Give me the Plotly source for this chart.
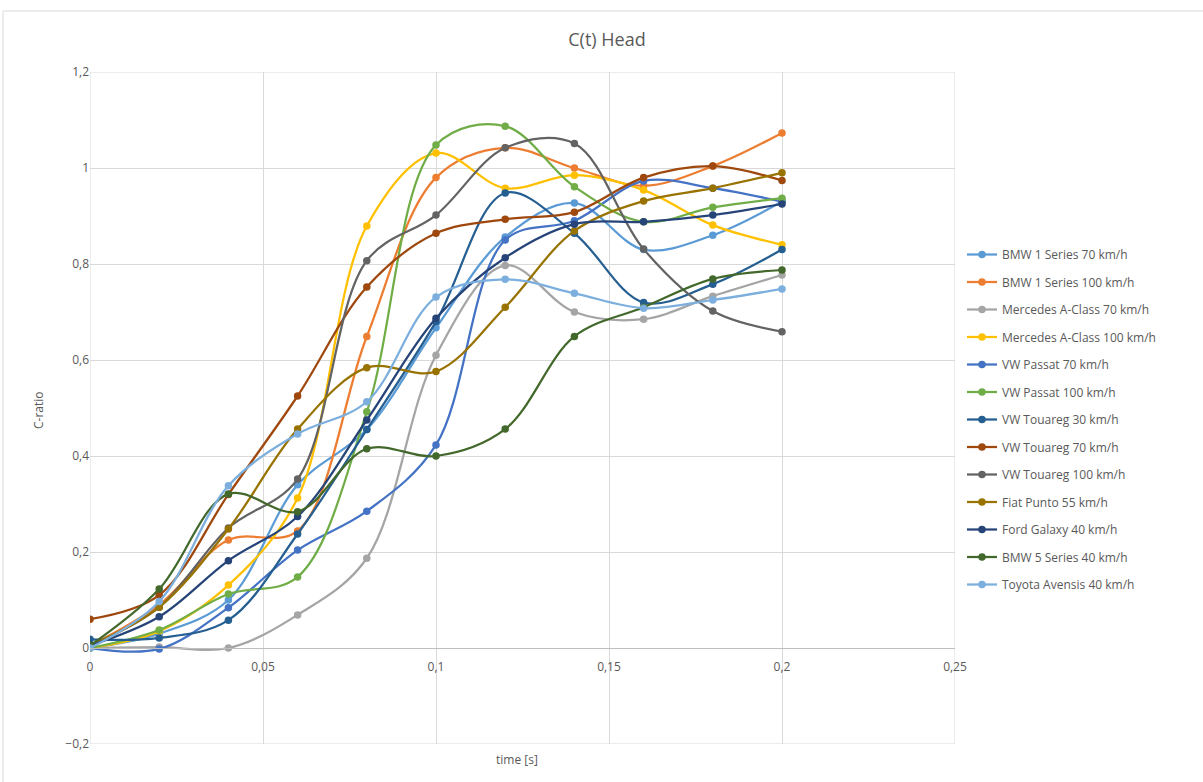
import plotly.graph_objects as go

# Time samples (s)
time_s = [0, 0.02, 0.04, 0.06, 0.08, 0.10, 0.12, 0.14, 0.16, 0.18, 0.20]

# C-ratio of the head, per test
bmw1_70 = [0, 0.03, 0.10, 0.34, 0.455, 0.667, 0.856, 0.927, 0.83, 0.86, 0.93]
bmw1_100 = [0.005, 0.09, 0.225, 0.244, 0.649, 0.98, 1.042, 1.0, 0.963, 1.004, 1.073]
merc_70 = [0, 0.002, 0, 0.069, 0.187, 0.61, 0.797, 0.70, 0.685, 0.733, 0.777]
merc_100 = [0, 0.035, 0.131, 0.3125, 0.879, 1.031, 0.958, 0.985, 0.954, 0.881, 0.84]
passat_70 = [0, -0.002, 0.084, 0.204, 0.285, 0.423, 0.85, 0.89, 0.973, 0.958, 0.93]
passat_100 = [0, 0.0375, 0.1125, 0.148, 0.492, 1.048, 1.087, 0.961, 0.888, 0.918, 0.937]
touareg_30 = [0.018, 0.021, 0.058, 0.2375, 0.455, 0.68, 0.948, 0.864, 0.72, 0.758, 0.83]
touareg_70 = [0.06, 0.11, 0.32, 0.525, 0.752, 0.864, 0.893, 0.908, 0.98, 1.004, 0.974]
touareg_100 = [0.005, 0.085, 0.25, 0.352, 0.807, 0.902, 1.042, 1.051, 0.831, 0.702, 0.659]
punto_55 = [0.005, 0.085, 0.248, 0.456, 0.584, 0.576, 0.71, 0.869, 0.931, 0.958, 0.99]
galaxy_40 = [0.005, 0.065, 0.182, 0.274, 0.475, 0.687, 0.813, 0.883, 0.888, 0.902, 0.925]
bmw5_40 = [0.005, 0.123, 0.321, 0.284, 0.415, 0.4, 0.456, 0.649, 0.71, 0.769, 0.7875]
avensis_40 = [0, 0.097, 0.338, 0.446, 0.513, 0.731, 0.768, 0.739, 0.708, 0.725, 0.748]

series = [
    ("BMW 1 Series 70 km/h", bmw1_70, "#5B9BD5"),
    ("BMW 1 Series 100 km/h", bmw1_100, "#ED7D31"),
    ("Mercedes A-Class 70 km/h", merc_70, "#A5A5A5"),
    ("Mercedes A-Class 100 km/h", merc_100, "#FFC000"),
    ("VW Passat 70 km/h", passat_70, "#4472C4"),
    ("VW Passat 100 km/h", passat_100, "#70AD47"),
    ("VW Touareg 30 km/h", touareg_30, "#255E91"),
    ("VW Touareg 70 km/h", touareg_70, "#9E480E"),
    ("VW Touareg 100 km/h", touareg_100, "#636363"),
    ("Fiat Punto 55 km/h", punto_55, "#997300"),
    ("Ford Galaxy 40 km/h", galaxy_40, "#264478"),
    ("BMW 5 Series 40 km/h", bmw5_40, "#43682B"),
    ("Toyota Avensis 40 km/h", avensis_40, "#7CAFDD"),
]

FONT = "Open Sans, Lato, sans-serif"
TXT = "#595959"
GRID = "#D9D9D9"

fig = go.Figure()
for i, (name, vals, color) in enumerate(series):
    fig.add_trace(go.Scatter(
        x=time_s, y=vals, name=name, mode="lines+markers",
        line=dict(color=color, width=2.25, shape="spline", smoothing=1.0),
        marker=dict(color=color, size=7.5, symbol="circle"),
        legendgroup=f"g{i}",
    ))

W, H = 1203, 782
L, R, T, B = 90, 248, 72, 38
xmin, xmax = 0, 0.25
ymin, ymax = -0.2, 1.2
zero_pos = (0 - ymin) / (ymax - ymin)

fig.update_layout(
    width=W, height=H,
    margin=dict(l=L, r=R, t=T, b=B),
    paper_bgcolor="white", plot_bgcolor="white",
    separators=", ",
    font=dict(family=FONT, color=TXT, size=12),
    title=dict(text="C(t) Head", xref="container", x=607 / W, xanchor="center",
               yref="container", y=1 - 40 / H, yanchor="middle",
               font=dict(size=18, color=TXT, family=FONT)),
    xaxis=dict(range=[xmin, xmax], dtick=0.05, tick0=0, showgrid=True, gridcolor=GRID,
               gridwidth=1, zeroline=False, showline=True, linecolor="#BFBFBF",
               anchor="free", position=zero_pos, ticks="", ticklabelstandoff=8,
               tickfont=dict(size=12, color=TXT, family=FONT)),
    yaxis=dict(range=[ymin, ymax], dtick=0.2, tick0=0, showgrid=True, gridcolor=GRID,
               gridwidth=1, zeroline=False, showline=False, ticks="",
               tickfont=dict(size=12, color=TXT, family=FONT)),
    legend=dict(x=(962 - L) / (W - L - R), xanchor="left",
                y=(H - B - 240) / (H - T - B), yanchor="top",
                font=dict(size=12, color=TXT, family=FONT),
                tracegroupgap=8.5, itemwidth=30, bgcolor="rgba(0,0,0,0)"),
    showlegend=True,
)

# Gridlines on the outer edges of the plot area
for yv in (ymin, ymax):
    fig.add_shape(type="line", xref="x", yref="y", x0=xmin, x1=xmax, y0=yv, y1=yv,
                  line=dict(color=GRID, width=1), layer="below")
for xv in (xmin, xmax):
    fig.add_shape(type="line", xref="x", yref="y", x0=xv, x1=xv, y0=ymin, y1=ymax,
                  line=dict(color=GRID, width=1), layer="below")

pw = W - L - R
ph = H - T - B
# Axis titles
fig.add_annotation(text="C-ratio", xref="paper", yref="paper",
                   x=(38 - L) / pw, y=(H - B - 410) / ph, showarrow=False,
                   xanchor="center", yanchor="middle",
                   textangle=-90, font=dict(size=12, color=TXT, family=FONT))
fig.add_annotation(text="time [s]", xref="paper", yref="paper",
                   x=(517 - L) / pw, y=(H - B - 759) / ph, showarrow=False,
                   xanchor="center", yanchor="middle",
                   font=dict(size=12, color=TXT, family=FONT))

# Chart frame (top and left edges)
fx0 = (3 - L) / pw
fy_top = (H - B - 11) / ph
fy_bot = (H - B - H - 5) / ph
fx1 = (W + 5 - L) / pw
fig.add_shape(type="line", xref="paper", yref="paper", x0=fx0, x1=fx1, y0=fy_top, y1=fy_top,
              line=dict(color="#D9D9D9", width=1))
fig.add_shape(type="line", xref="paper", yref="paper", x0=fx0, x1=fx0, y0=fy_bot, y1=fy_top,
              line=dict(color="#D9D9D9", width=1))

fig.write_html("out.html")
